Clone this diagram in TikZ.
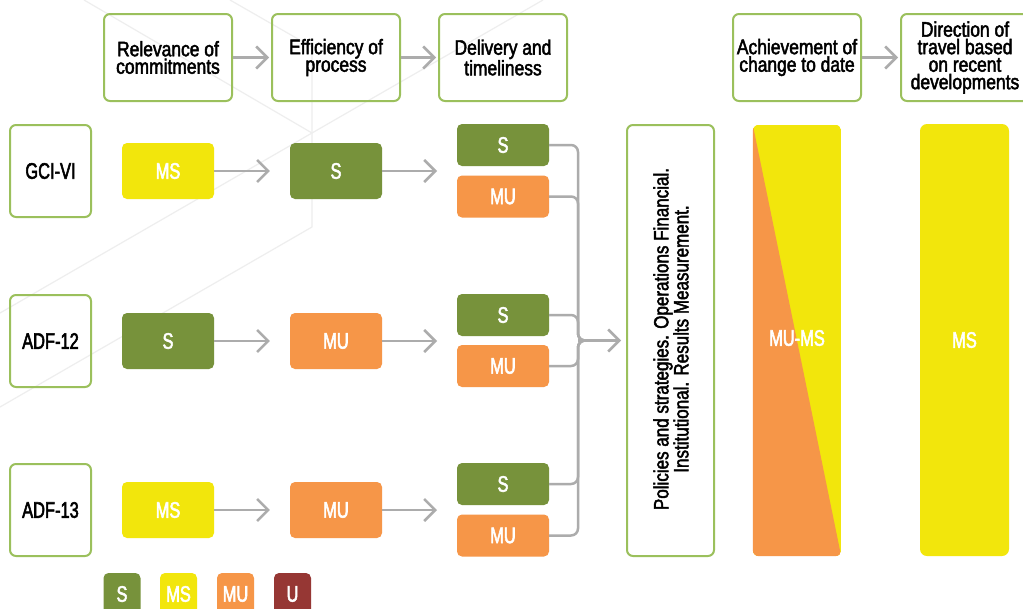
\documentclass[tikz,border=0pt]{standalone}
\usepackage{fontspec}
\setmainfont{Liberation Sans}
\newfontfamily\hdrfont{Liberation Sans}[FakeStretch=0.83,FakeBold=2.2]
\newfontfamily\lblfont{Liberation Sans}[FakeStretch=0.73,FakeBold=2.4]
\usetikzlibrary{arrows.meta}
\definecolor{boxgreen}{RGB}{155,192,92}
\definecolor{cS}{RGB}{119,146,59}
\definecolor{cMS}{RGB}{242,230,12}
\definecolor{cMU}{RGB}{246,150,72}
\definecolor{cU}{RGB}{150,55,52}
\definecolor{linegray}{RGB}{172,172,172}
\definecolor{bggray}{RGB}{238,238,238}
\begin{document}
\begin{tikzpicture}[x=1pt,y=-1pt,
  outl/.style={draw=boxgreen, line width=2pt, rounded corners=6pt, inner sep=0pt, align=center},
  hdr/.style={outl, minimum width=128pt, minimum height=87pt, font=\hdrfont\fontsize{21}{17.5}\selectfont},
  rowlab/.style={outl, minimum width=81pt, minimum height=92pt, font=\lblfont\fontsize{22.5}{22}\selectfont},
  rate/.style={rounded corners=5pt, inner sep=0pt, text=white, font=\lblfont\fontsize{22.5}{22}\selectfont},
  big/.style={rate, minimum width=92pt, minimum height=56pt},
  small/.style={rate, minimum width=92pt, minimum height=42pt},
  leg/.style={rate, minimum width=37pt, minimum height=42pt},
  arr/.style={draw=linegray, line width=2.5pt, -{Straight Barb[length=11pt,width=22pt,line width=2.5pt]}},
  conn/.style={draw=linegray, line width=2.5pt, rounded corners=7pt},
]
\fill[white] (0,0) rectangle (1023,608);
\useasboundingbox (0,0) rectangle (1023,608);

% faint background pattern
\draw[bggray, line width=1.2pt] (84,0) -- (312,133) -- (543,0);
\draw[bggray, line width=1.2pt] (312,133) -- (0,313);
\draw[bggray, line width=1.2pt] (230,0) -- (312,47) -- (312,227) -- (0,407);

% headers
\node[hdr] (h1) at (168,57.5) {Relevance of\\commitments};
\node[hdr] (h2) at (336,57.5) {Efficiency of\\process};
\node[hdr] (h3) at (503,57.5) {Delivery and\\timeliness};
\node[hdr] (h4) at (797,57.5) {Achievement of\\change to date};
\node[hdr] (h5) at (965,57.5) {Direction of\\travel based\\on recent\\developments};
\draw[arr, shorten >=2pt] (h1) -- (h2);
\draw[arr, shorten >=2pt] (h2) -- (h3);
\draw[arr, shorten >=2pt] (h4) -- (h5);

% row labels
\node[rowlab] (r1) at (50.5,171) {GCI-VI};
\node[rowlab] (r2) at (50.5,341) {ADF-12};
\node[rowlab] (r3) at (50.5,510) {ADF-13};

% row 1
\node[big, fill=cMS] (a1) at (168,171) {MS};
\node[big, fill=cS] (b1) at (336,171) {S};
\node[small, fill=cS] (c1s) at (503,145) {S};
\node[small, fill=cMU] (c1u) at (503,196.5) {MU};
% row 2
\node[big, fill=cS] (a2) at (168,341) {S};
\node[big, fill=cMU] (b2) at (336,341) {MU};
\node[small, fill=cS] (c2s) at (503,315) {S};
\node[small, fill=cMU] (c2u) at (503,366) {MU};
% row 3
\node[big, fill=cMS] (a3) at (168,510) {MS};
\node[big, fill=cMU] (b3) at (336,510) {MU};
\node[small, fill=cS] (c3s) at (503,484) {S};
\node[small, fill=cMU] (c3u) at (503,535.5) {MU};

\coordinate (d1) at (437,171);
\coordinate (d2) at (437,341);
\coordinate (d3) at (437,510);
\draw[arr, shorten >=20pt] (a1) -- (b1);
\draw[arr, shorten >=20pt] (a2) -- (b2);
\draw[arr, shorten >=20pt] (a3) -- (b3);
\draw[arr] (b1.east) -- (d1);
\draw[arr] (b2.east) -- (d2);
\draw[arr] (b3.east) -- (d3);

% policies box
\node[outl, minimum width=87pt, minimum height=431pt] (pol) at (670.5,340.5) {};
\node[rotate=90, align=center, font=\hdrfont\fontsize{20.5}{20}\selectfont] (poltxt) at (671,339) {Policies and strategies. Operations Financial.\\Institutional. Results Measurement.};

% connectors to policies
\coordinate (jn) at (578,340.5);
\coordinate (jr) at (600,340.5);
\foreach \n in {c1s,c1u,c2s,c2u,c3s,c3u}{
  \draw[conn] (\n.east) -| (jn) -- (jr);
}
\draw[arr, shorten >=5pt] (jn) -- (pol.west);

% achievement bar
\node[minimum width=88pt, minimum height=431pt, inner sep=0pt] (ach) at (797,340.5) {};
\begin{scope}
\clip[rounded corners=6pt] (ach.north west) rectangle (ach.south east);
\fill[cMS] (ach.north west) rectangle (ach.south east);
\fill[cMU] (ach.north west) -- (ach.south east) -- (ach.south west) -- cycle;
\end{scope}
\node[text=white, font=\lblfont\fontsize{22.5}{22}\selectfont] (achtxt) at (797,338) {MU-MS};

% direction bar
\node[rate, fill=cMS, minimum width=89pt, minimum height=432pt, rounded corners=7pt] (dir) at (964.5,340) {MS};

% legend
\node[leg, fill=cS] (l1) at (122,594) {S};
\node[leg, fill=cMS] (l2) at (178.5,594) {MS};
\node[leg, fill=cMU] (l3) at (235.5,594) {MU};
\node[leg, fill=cU] (l4) at (292.5,594) {U};
\end{tikzpicture}
\end{document}
